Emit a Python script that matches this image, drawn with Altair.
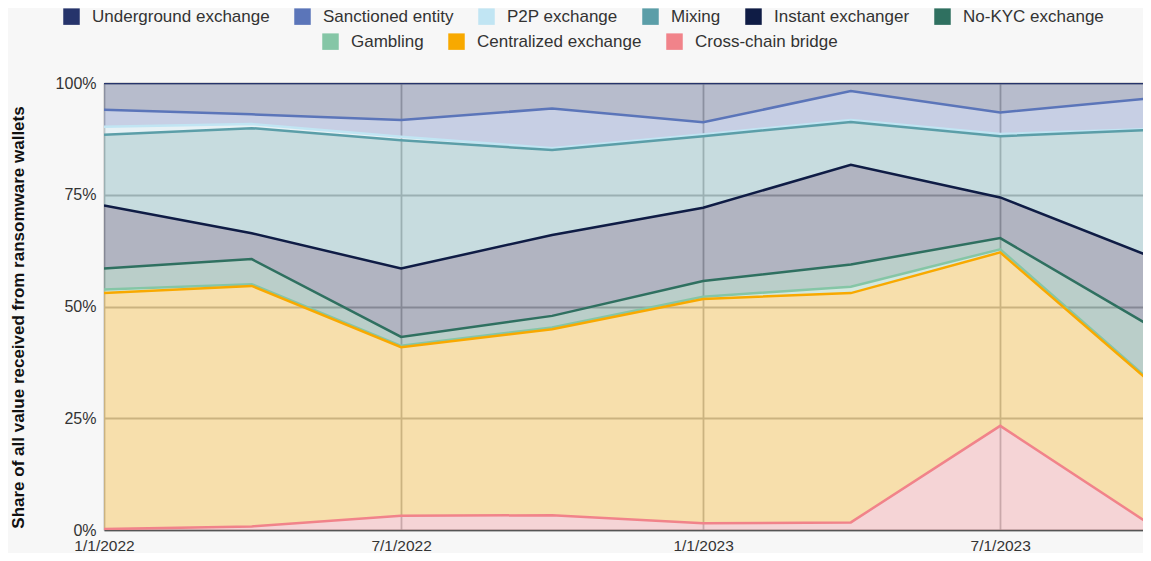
import altair as alt
import pandas as pd

# ---- data (share of value, % per quarter) ----
dates = ["2022/01/01", "2022/04/01", "2022/07/01", "2022/10/01",
         "2023/01/01", "2023/04/01", "2023/07/01", "2023/10/01"]

underground = [6.0, 7.0, 8.3, 5.7, 8.8, 1.8, 6.6, 3.4]
sanctioned = [3.8, 2.2, 3.7, 8.9, 2.7, 6.5, 4.8, 6.9]
p2p = [1.8, 0.9, 0.8, 0.4, 0.4, 0.4, 0.5, 0.2]
mixing = [15.8, 23.5, 28.7, 19.0, 16.0, 9.6, 13.7, 28.4]
instant = [14.1, 5.8, 15.3, 18.1, 16.4, 22.3, 9.1, 15.6]
no_kyc = [4.7, 5.6, 2.0, 2.6, 3.5, 5.0, 2.5, 12.3]
gambling = [0.8, 0.4, 0.3, 0.4, 0.5, 1.4, 0.7, 0.3]
centralized = [52.8, 53.8, 37.7, 41.6, 50.2, 51.3, 38.8, 31.8]
cross_chain = [0.2, 0.8, 3.2, 3.3, 1.5, 1.7, 23.3, 1.1]

series = ["Underground exchange", "Sanctioned entity", "P2P exchange", "Mixing",
          "Instant exchanger", "No-KYC exchange", "Gambling", "Centralized exchange",
          "Cross-chain bridge"]
colors = ["#26346b", "#5b75b9", "#c1e5f3", "#5b9ea8", "#0f1c45", "#2f7060",
          "#85c6a6", "#f8a900", "#f1838a"]
values = [underground, sanctioned, p2p, mixing, instant, no_kyc, gambling,
          centralized, cross_chain]

rows = []
for i, (name, vals) in enumerate(zip(series, values)):
    for d, v in zip(dates, vals):
        rows.append({"date": d, "series": name, "value": v,
                     "stack_order": len(series) - 1 - i})
df = pd.DataFrame(rows)

row1, row2 = series[:6], series[6:]
col1, col2 = colors[:6], colors[6:]

FONT = "Liberation Sans"

x_enc = alt.X(
    "date:T",
    scale=alt.Scale(domain=[alt.DateTime(year=2022, month=1, date=1),
                            alt.DateTime(year=2023, month=9, date=26)]),
    axis=alt.Axis(
        title=None, format="%-m/%-d/%Y", labelFlush=False, labelPadding=8,
        labelFontSize=15.5,
        values=[alt.DateTime(year=2022, month=1, date=1),
                alt.DateTime(year=2022, month=7, date=1),
                alt.DateTime(year=2023, month=1, date=1),
                alt.DateTime(year=2023, month=7, date=1)],
        domain=True, domainColor="#555555", domainWidth=1.5,
    ),
)
y_enc = alt.Y(
    "y1:Q",
    scale=alt.Scale(domain=[0, 100]),
    axis=alt.Axis(
        title="Share of all value received from ransomware wallets",
        values=[0, 25, 50, 75, 100], labelExpr="datum.value + '%'",
        labelPadding=8, titlePadding=28, titleY=234, domain=False,
    ),
)


def band_layer(names, cols, lx, ly):
    return alt.Chart(df).transform_stack(
        stack="value", groupby=["date"], as_=["y0", "y1"],
        sort=[alt.SortField("stack_order", order="ascending")],
    ).transform_filter(
        alt.FieldOneOfPredicate(field="series", oneOf=names)
    ).mark_area(
        fillOpacity=0.3, line={"strokeWidth": 2.5}, clip=True
    ).encode(
        x=x_enc,
        y=y_enc,
        y2="y0:Q",
        color=alt.Color(
            "series:N",
            scale=alt.Scale(domain=names, range=cols),
            legend=alt.Legend(orient="none", legendX=lx, legendY=ly,
                              direction="horizontal", title=None),
        ),
    )


chart = alt.layer(
    band_layer(row1, col1, -41, -75),
    band_layer(row2, col2, 218, -50),
).resolve_scale(
    color="independent"
).properties(
    width=1039, height=447, background="#f7f7f7",
    padding={"left": 96, "top": 75, "right": 0, "bottom": 23},
    autosize=alt.AutoSizeParams(type="none"),
).configure_view(
    stroke=None
).configure_axis(
    labelFont=FONT, labelFontSize=16, labelColor="#333333",
    titleFont=FONT, titleFontSize=17, titleFontWeight="bold", titleColor="#111111",
    ticks=False, gridColor="#b8b8b8", gridWidth=1.8,
).configure_legend(
    labelFont=FONT, labelFontSize=17, labelColor="#333333", labelLimit=300,
    symbolType="square", symbolSize=272, symbolStrokeWidth=0,
    symbolOpacity=1, labelOffset=12, columnPadding=24, padding=0,
)

chart.save("out.html", embed_options={"renderer": "svg", "actions": False})
